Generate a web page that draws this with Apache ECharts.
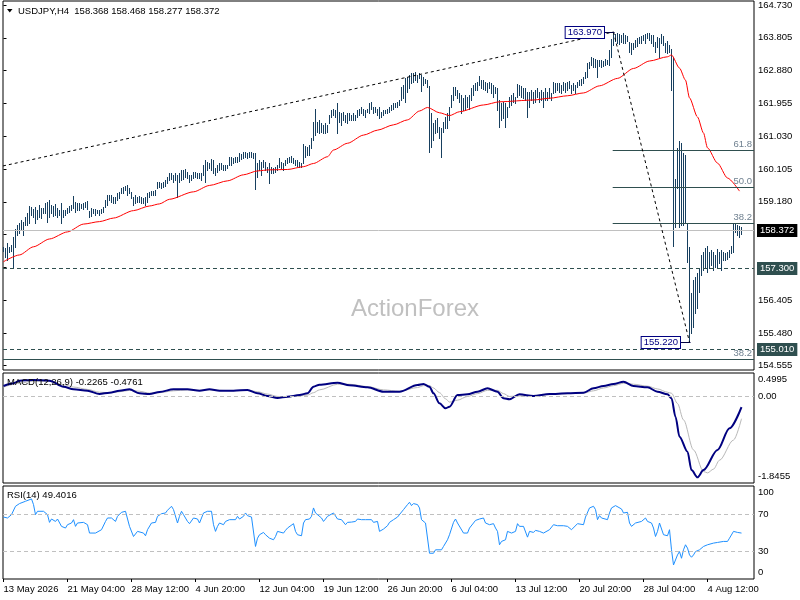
<!DOCTYPE html>
<html><head><meta charset="utf-8">
<script src="https://cdn.jsdelivr.net/npm/echarts@6/dist/echarts.min.js"></script>
<style>html,body{margin:0;padding:0;background:#fff}#c{width:800px;height:600px}</style>
</head><body><div id="c"></div>
<script>
// ---- price bars (H4), index 0 = first bar on chart ----
const highs = [
157.91,157.87,158.02,157.91,157.96,158.19,158.41,158.52,158.59,158.66,
158.62,158.76,158.87,159.06,159.04,158.97,159.04,158.95,159.09,159.00,
159.00,159.14,159.18,159.23,159.09,159.06,159.12,159.00,158.95,159.14,
158.95,158.95,159.00,159.06,159.09,159.34,159.18,159.14,159.14,159.12,
159.14,159.18,159.21,158.93,159.00,158.97,158.97,158.95,158.95,158.97,
159.04,159.23,159.37,159.37,159.37,159.32,159.31,159.42,159.46,159.56,
159.60,159.62,159.65,159.56,159.46,159.32,159.37,159.32,159.34,159.32,
159.28,159.32,159.42,159.46,159.49,159.49,159.51,159.75,159.75,159.72,
159.75,159.79,159.89,159.98,160.00,159.94,159.98,159.94,159.98,160.08,
160.08,160.09,160.03,159.94,159.94,160.03,160.03,160.00,159.98,159.98,
160.22,160.36,160.31,160.26,160.38,160.36,160.12,160.22,160.26,160.26,
160.22,160.22,160.22,160.43,160.43,160.41,160.43,160.45,160.55,160.53,
160.59,160.59,160.55,160.59,160.59,160.56,160.55,160.26,160.36,160.31,
160.36,160.31,160.17,160.26,160.17,160.12,160.17,160.22,160.41,160.31,
160.26,160.36,160.41,160.45,160.47,160.41,160.36,160.36,160.31,160.26,
160.81,160.75,160.72,160.78,160.97,161.44,161.81,161.44,161.49,161.39,
161.35,161.39,161.35,161.63,161.77,161.81,161.77,161.96,161.72,161.67,
161.72,161.63,161.67,161.67,161.63,161.67,161.63,161.77,161.81,161.86,
161.81,161.77,161.81,161.96,162.00,161.86,161.86,161.81,161.86,161.72,
161.77,161.77,161.81,161.86,161.91,161.96,161.96,162.00,162.05,162.43,
162.47,162.66,162.71,162.76,162.82,162.80,162.85,162.76,162.80,162.76,
162.70,162.65,162.61,162.45,161.67,161.39,161.49,161.53,161.30,161.25,
161.44,161.58,161.67,161.86,162.19,162.41,162.43,162.33,162.24,162.19,
162.10,162.19,162.14,162.19,162.38,162.47,162.52,162.57,162.73,162.61,
162.61,162.57,162.52,162.57,162.52,162.47,162.43,162.38,162.05,161.96,
162.00,161.96,161.86,162.14,162.19,162.24,162.14,162.50,162.47,162.45,
162.38,162.38,162.28,162.28,162.33,162.28,162.33,162.38,162.28,162.33,
162.28,162.38,162.28,162.38,162.24,162.57,162.52,162.52,162.52,162.47,
162.57,162.52,162.57,162.59,162.47,162.52,162.47,162.57,162.61,162.63,
162.71,162.85,163.09,163.13,163.27,163.23,163.20,163.18,163.18,163.18,
163.16,163.20,163.18,163.46,163.76,163.97,163.91,163.93,163.91,163.88,
163.93,163.88,163.86,163.69,163.65,163.67,163.74,163.79,163.84,163.86,
163.88,163.91,163.95,163.93,163.88,163.88,163.69,163.84,163.79,163.91,
163.86,163.65,163.72,163.60,163.48,163.27,159.82,160.69,160.89,160.84,
160.55,160.50,158.55,157.90,156.60,156.97,157.06,157.17,157.31,157.68,
157.77,157.87,157.93,157.77,157.82,157.77,157.68,157.85,157.77,157.82,
157.77,157.73,157.77,157.82,157.93,158.55,158.55,158.52,158.50,158.468
];
const lows = [
157.80,157.63,157.54,157.77,157.80,157.30,157.91,158.24,158.29,158.38,
158.24,158.52,158.52,158.57,158.81,158.76,158.57,158.68,158.76,158.71,
158.85,158.85,158.62,158.76,158.85,158.78,158.81,158.76,158.81,158.57,
158.76,158.81,158.85,158.90,158.95,159.00,158.90,158.95,158.95,159.00,
158.97,159.04,158.97,158.74,158.78,158.85,158.81,158.85,158.81,158.85,
158.90,159.04,159.09,159.23,159.18,159.14,159.14,159.23,159.28,159.42,
159.42,159.51,159.37,159.42,159.28,159.09,159.14,159.18,159.18,159.14,
159.15,159.09,159.18,159.32,159.37,159.37,159.37,159.56,159.60,159.56,
159.59,159.62,159.70,159.79,159.81,159.75,159.79,159.32,159.75,159.79,
159.81,159.89,159.84,159.75,159.79,159.84,159.89,159.84,159.84,159.79,
159.94,159.75,160.08,160.12,160.08,159.98,159.94,160.03,160.08,160.09,
160.08,160.08,160.12,160.22,160.22,160.26,160.31,160.31,160.33,160.38,
160.41,160.45,160.41,160.45,160.45,160.41,159.53,159.89,160.08,159.94,
160.17,160.08,160.03,159.70,159.98,159.98,160.03,160.08,160.17,160.12,
160.08,160.22,160.26,160.31,160.31,160.26,160.22,160.19,160.17,160.17,
160.26,160.45,160.50,160.50,160.69,160.92,161.06,161.16,161.11,161.16,
161.11,161.13,161.16,161.39,161.58,161.63,161.58,161.11,161.44,161.35,
161.49,161.44,161.39,161.49,161.49,161.50,161.49,161.58,161.63,161.67,
161.63,161.58,161.72,161.67,161.81,161.67,161.72,161.63,161.53,161.58,
161.63,161.67,161.67,161.72,161.77,161.81,161.86,161.86,161.91,162.05,
162.10,162.00,162.28,162.38,162.52,162.57,162.61,162.57,162.66,162.31,
162.47,162.52,162.43,160.59,160.73,160.92,161.11,161.16,160.97,160.45,
161.16,161.25,161.25,161.49,161.86,162.05,162.19,162.10,162.00,161.67,
161.77,161.81,161.86,161.81,162.05,162.19,162.33,162.33,162.47,162.38,
162.35,162.33,162.28,162.38,162.24,162.14,162.24,161.77,161.30,161.49,
161.53,161.30,161.58,161.86,161.91,162.00,161.96,162.14,162.19,162.14,
162.10,162.05,161.58,161.86,162.05,161.96,162.00,162.14,162.00,162.05,
161.86,162.05,162.05,162.10,162.05,162.24,162.28,162.33,162.28,162.24,
162.33,162.28,162.33,162.38,162.24,162.33,162.24,162.43,162.47,162.47,
162.52,162.66,162.71,162.94,163.04,162.99,162.99,162.71,163.01,162.99,
163.01,163.04,163.07,163.04,163.27,163.60,163.72,163.67,163.63,163.69,
163.65,163.67,163.72,163.41,163.35,163.48,163.55,163.57,163.65,163.67,
163.74,163.65,163.79,163.74,163.67,163.57,163.41,163.55,163.27,163.65,
163.60,163.41,163.37,163.41,162.33,157.93,158.48,159.56,158.48,158.52,
158.52,158.58,157.48,155.22,155.48,155.65,156.04,156.18,156.64,157.11,
157.25,157.31,157.21,157.31,157.40,157.25,157.35,157.31,157.45,157.25,
157.54,157.54,157.56,157.63,157.73,157.77,158.33,158.24,158.19,158.277
];
// moving average [barIndex, value]
const maLine = [[0,157.49],[8,157.68],[15,157.91],[23,158.13],[32,158.33],[40,158.55],[48,158.62],[55,158.72],[65,158.93],[73,159.06],[78,159.12],[83,159.25],[95,159.46],[103,159.64],[112,159.77],[120,159.94],[127,160.05],[133,160.08],[142,160.09],[150,160.17],[155,160.26],[162,160.45],[165,160.64],[172,160.83],[180,161.06],[187,161.20],[195,161.35],[202,161.49],[208,161.74],[212,161.84],[218,161.69],[223,161.61],[228,161.72],[240,161.91],[248,162.00],[265,162.05],[273,162.10],[282,162.17],[290,162.25],[298,162.45],[307,162.66],[315,162.94],[323,163.15],[332,163.27],[334,163.32],[338,162.95],[341,162.61],[343,162.11],[347,161.57],[350,161.12],[352,160.70],[357,160.27],[362,159.85],[368,159.48]];
// MACD main and signal [barIndex, value]
const macdLine = [[0,0.222],[5,0.280],[8,0.335],[15,0.350],[23,0.335],[30,0.207],[35,0.152],[42,0.122],[48,0.052],[53,0.080],[58,0.122],[63,0.152],[68,0.067],[73,0.052],[78,0.094],[85,0.152],[92,0.152],[98,0.122],[103,0.152],[108,0.122],[115,0.122],[122,0.137],[127,0.067],[132,0.009],[137,-0.034],[142,-0.006],[148,0.030],[152,0.067],[155,0.207],[158,0.250],[167,0.293],[173,0.237],[182,0.195],[190,0.101],[198,0.101],[207,0.244],[210,0.265],[213,0.207],[215,0.067],[218,-0.147],[221,-0.253],[223,-0.219],[227,0.030],[232,0.045],[237,0.101],[242,0.173],[247,0.101],[250,-0.040],[253,-0.061],[258,0.045],[265,0.009],[273,0.052],[282,0.067],[290,0.080],[295,0.173],[300,0.222],[305,0.265],[310,0.314],[315,0.222],[322,0.195],[327,0.101],[332,0.045],[334,-0.040],[336,-0.432],[338,-0.859],[342,-1.178],[344,-1.569],[347,-1.725],[350,-1.569],[357,-1.142],[363,-0.680],[369,-0.2265]];
const signalLine = [[0,0.20],[8,0.28],[15,0.33],[23,0.32],[30,0.25],[35,0.20],[42,0.15],[48,0.09],[53,0.08],[58,0.10],[63,0.13],[68,0.11],[73,0.07],[78,0.08],[85,0.12],[92,0.14],[98,0.13],[103,0.14],[108,0.13],[115,0.12],[122,0.13],[127,0.10],[132,0.05],[137,0.00],[142,-0.01],[148,0.01],[152,0.03],[155,0.08],[158,0.14],[167,0.26],[173,0.26],[182,0.21],[190,0.14],[198,0.11],[207,0.19],[210,0.23],[213,0.23],[215,0.18],[218,0.08],[221,-0.05],[223,-0.12],[227,-0.08],[232,0.00],[237,0.06],[242,0.13],[247,0.13],[250,0.06],[253,0.00],[258,0.01],[265,0.02],[273,0.04],[282,0.06],[290,0.07],[295,0.12],[300,0.18],[305,0.23],[310,0.28],[315,0.26],[322,0.22],[327,0.16],[332,0.09],[334,0.067],[337,-0.15],[340,-0.50],[345,-1.14],[350,-1.60],[352,-1.63],[355,-1.55],[358,-1.36],[365,-0.93],[369,-0.4761]];
// RSI(14) [barIndex, value]
const rsiLine = [[0,66.6],[2,65.6],[4,69.2],[6,78.2],[8,81.1],[11,83.6],[12,84.7],[14,86.1],[15,80.0],[16,69.2],[17,72.8],[18,71.0],[20,72.8],[21,73.9],[22,69.2],[23,60.9],[24,64.5],[26,61.9],[27,64.5],[29,56.6],[30,58.4],[31,54.8],[32,58.4],[34,60.2],[35,63.8],[36,56.6],[37,60.2],[38,58.4],[40,60.9],[41,60.9],[42,58.4],[43,49.4],[44,47.6],[46,49.4],[47,49.4],[49,53.0],[51,61.9],[52,65.6],[54,65.6],[56,61.9],[57,67.4],[59,71.7],[61,72.8],[62,73.5],[63,56.6],[65,45.7],[67,51.2],[68,53.0],[70,49.4],[71,46.5],[72,53.0],[74,60.2],[76,60.9],[77,67.4],[79,70.2],[81,71.0],[82,73.9],[84,78.2],[85,74.6],[87,60.2],[88,67.4],[89,72.8],[90,69.2],[92,61.9],[93,59.5],[94,60.2],[95,65.6],[97,64.5],[98,60.2],[99,60.9],[100,71.0],[102,72.8],[103,71.0],[104,72.8],[105,58.4],[106,51.2],[107,56.6],[108,60.2],[110,58.4],[111,61.9],[112,60.2],[113,63.8],[114,65.6],[116,63.8],[117,67.4],[118,64.5],[120,67.4],[121,71.0],[122,68.1],[123,67.4],[124,66.6],[125,65.6],[126,35.0],[127,43.9],[128,47.6],[130,50.1],[131,47.6],[132,48.6],[133,43.9],[135,42.2],[136,45.7],[137,51.2],[138,53.0],[140,49.4],[141,52.3],[142,54.8],[143,56.6],[145,59.5],[146,51.2],[147,47.6],[149,46.5],[150,60.2],[151,63.8],[152,61.9],[153,64.5],[154,67.4],[155,76.4],[156,71.0],[157,69.2],[159,65.6],[160,61.9],[161,64.5],[162,67.4],[163,69.2],[165,71.0],[166,69.2],[167,64.5],[169,63.8],[170,64.5],[171,58.4],[172,60.9],[174,61.2],[176,61.9],[177,64.5],[179,63.8],[180,65.6],[181,63.8],[182,61.9],[184,63.8],[185,60.9],[186,60.2],[187,61.9],[188,51.2],[190,53.7],[192,57.3],[193,60.9],[195,63.8],[197,66.6],[198,67.4],[200,74.6],[202,80.0],[203,82.5],[204,78.9],[205,81.1],[207,80.0],[208,76.4],[209,63.8],[210,65.6],[211,60.2],[213,27.7],[214,27.0],[215,27.7],[216,31.4],[217,33.2],[219,31.4],[220,35.0],[222,42.2],[223,47.6],[225,60.9],[226,64.5],[227,60.2],[228,58.4],[230,49.4],[231,51.2],[232,49.4],[233,54.8],[235,60.2],[236,63.0],[238,64.5],[240,65.6],[241,60.2],[243,58.4],[245,59.5],[246,54.8],[247,51.2],[248,36.8],[249,40.4],[250,38.6],[251,42.2],[252,51.2],[254,49.4],[256,51.2],[257,59.5],[258,56.6],[260,56.6],[261,54.8],[262,45.0],[263,51.2],[265,50.1],[266,52.3],[267,53.0],[268,51.2],[270,49.4],[271,49.4],[273,53.0],[275,58.4],[277,57.3],[278,57.3],[280,57.3],[282,56.6],[284,53.0],[285,54.8],[287,59.5],[288,60.9],[290,58.4],[291,66.6],[292,64.5],[293,76.4],[295,78.2],[296,74.6],[297,63.8],[298,68.1],[299,65.6],[300,67.4],[302,63.8],[303,71.0],[304,76.4],[306,78.9],[307,78.2],[309,75.3],[310,71.0],[312,71.7],[313,60.2],[314,56.6],[316,60.2],[317,60.9],[319,61.9],[321,65.6],[322,61.9],[324,60.2],[325,54.8],[326,45.7],[327,51.2],[328,60.2],[330,47.6],[331,46.5],[332,46.5],[333,53.0],[334,31.4],[335,15.1],[336,15.1],[337,25.9],[338,29.5],[339,22.3],[340,31.4],[341,36.8],[342,33.2],[343,25.9],[344,23.4],[345,25.9],[346,29.5],[347,29.5],[348,31.4],[350,35.0],[352,36.8],[353,37.8],[355,38.6],[357,39.3],[358,40.4],[360,40.4],[362,40.4],[363,43.9],[365,51.2],[366,52.3],[367,50.1],[369,49.4]];

// axis ticks and labels
const priceTicks = [164.730,163.805,162.880,161.955,161.030,160.105,159.180,158.255,157.330,156.405,155.480,154.555];
const macdTicks = [0.4995, 0, -1.8455];
const rsiTicks = [100, 70, 30, 0];
const timeTickIdx = [0,32,64,96,128,160,192,224,256,288,320,352];
const timeLabels = ['13 May 2026','21 May 04:00','28 May 12:00','4 Jun 20:00','12 Jun 04:00','19 Jun 12:00','26 Jun 20:00','6 Jul 04:00','13 Jul 12:00','20 Jul 20:00','28 Jul 04:00','4 Aug 12:00'];

// drawn objects
const swingTags = [[305,163.970],[343,155.220]];
const trendLines = [[[-0.25,160.19],[305,163.97]],[[305,163.97],[343,155.22]]];
const fibLevels = [['38.2',158.563],['50.0',159.595],['61.8',160.628]];
const fibStartIdx = 304.6;
const longFibLevel = ['38.2',154.74];
const levelLines = [157.300,155.010];
const lastPrice = 158.372;
const quoteText = 'USDJPY,H4  158.368 158.468 158.277 158.372';
const macdText = 'MACD(12,26,9) -0.2265 -0.4761';
const rsiText = 'RSI(14) 49.4016';

const F = '"Liberation Sans", Arial, sans-serif';
const FS = 9.5;
const X_MIN = -0.25, X_MAX = 375.25;
const bars = highs.map((h, i) => [i, h, lows[i]]);

const chart = echarts.init(document.getElementById('c'), null, {renderer: 'canvas'});

function edgeFmt(v, top, bot, txt) {
  if (v === top) return '{t|' + txt + '}';
  if (v === bot) return '{b|' + txt + '}';
  return txt;
}
const edgeRich = {
  t: {padding: [13, 0, 0, 0], fontSize: FS, fontFamily: F, color: '#000'},
  b: {padding: [0, 0, 13, 0], fontSize: FS, fontFamily: F, color: '#000'}
};

const levelLabel = (txt, bg) => ({show: true, position: 'end', formatter: txt, color: '#fff', backgroundColor: bg,
  padding: [2, 3, 1, 3], distance: 3, fontSize: FS, fontFamily: F});
const fibLabel = (txt) => ({show: true, position: 'insideEndTop', formatter: txt, color: '#6f8090',
  distance: [2, 1], fontSize: FS, fontFamily: F});

const markData = [
  {yAxis: lastPrice, lineStyle: {color: '#c0c0c0', type: 'solid', width: 1}, label: levelLabel(lastPrice.toFixed(3), '#000')}
].concat(levelLines.map(v => ({yAxis: v, lineStyle: {color: '#2f4f4f', type: [4, 3], width: 1}, label: levelLabel(v.toFixed(3), '#2f4f4f')})))
 .concat([{yAxis: longFibLevel[1], lineStyle: {color: '#2f4f4f', type: 'solid', width: 1}, label: fibLabel(longFibLevel[0])}])
 .concat(fibLevels.map(([t, v]) => [{coord: [fibStartIdx, v], lineStyle: {color: '#2f4f4f', type: 'solid', width: 1}, label: fibLabel(t)}, {coord: [X_MAX, v]}]))
 .concat(trendLines.map(([a, b]) => [{coord: a, lineStyle: {color: '#000', type: [3, 3], width: 1}, label: {show: false}}, {coord: b}]));

const hiddenX = (gi) => ({type: 'value', gridIndex: gi, min: X_MIN, max: X_MAX, show: false});

const option = {
  animation: false,
  backgroundColor: '#fff',
  grid: [
    {left: 3, top: 1, width: 751, height: 369, show: true, borderColor: '#000', borderWidth: 1, backgroundColor: 'transparent'},
    {left: 3, top: 373, width: 751, height: 110, show: true, borderColor: '#000', borderWidth: 1, backgroundColor: 'transparent'},
    {left: 3, top: 486, width: 751, height: 93, show: true, borderColor: '#000', borderWidth: 1, backgroundColor: 'transparent'}
  ],
  xAxis: [
    hiddenX(0), hiddenX(1),
    {type: 'value', gridIndex: 2, min: X_MIN, max: X_MAX, position: 'bottom',
     axisLine: {show: false}, splitLine: {show: false},
     axisTick: {show: true, customValues: timeTickIdx, length: 3, lineStyle: {color: '#000'}},
     axisLabel: {show: true, customValues: timeTickIdx, align: 'left', margin: 5, color: '#000', fontSize: FS, fontFamily: F,
       formatter: v => timeLabels[timeTickIdx.indexOf(v)] || ''}}
  ],
  yAxis: [
    {type: 'value', gridIndex: 0, min: 154.434, max: 164.843, position: 'right', scale: true,
     axisLine: {show: false}, splitLine: {show: false},
     axisTick: {show: true, customValues: priceTicks, length: 3, lineStyle: {color: '#000'}},
     axisLabel: {show: true, customValues: priceTicks, margin: 4, color: '#000', fontSize: FS, fontFamily: F, formatter: v => v.toFixed(3)}},
    {type: 'value', gridIndex: 1, min: -1.8455, max: 0.4995, position: 'right',
     axisLine: {show: false}, splitLine: {show: false}, axisTick: {show: false},
     axisLabel: {show: true, customValues: macdTicks, margin: 4, color: '#000', fontSize: FS, fontFamily: F, rich: edgeRich,
       formatter: v => edgeFmt(v, 0.4995, -1.8455, v === 0 ? '0.00' : v.toFixed(4))}},
    {type: 'value', gridIndex: 2, min: 0, max: 100, position: 'right',
     axisLine: {show: false}, splitLine: {show: false}, axisTick: {show: false},
     axisLabel: {show: true, customValues: rsiTicks, margin: 4, color: '#000', fontSize: FS, fontFamily: F, rich: edgeRich,
       formatter: v => edgeFmt(v, 100, 0, String(v))}}
  ],
  graphic: [
    {type: 'text', z: 0, style: {text: 'ActionForex', x: 415, y: 309, align: 'center', verticalAlign: 'middle', font: '24px ' + F, fill: '#c0c0c0'}},
    {type: 'polygon', z: 10, shape: {points: [[7, 9], [12.5, 9], [9.75, 12.5]]}, style: {fill: '#000'}},
    {type: 'text', z: 10, style: {text: quoteText, x: 18, y: 11, verticalAlign: 'middle', font: FS + 'px ' + F, fill: '#000'}},
    {type: 'text', z: 10, style: {text: macdText, x: 7, y: 382, verticalAlign: 'middle', font: FS + 'px ' + F, fill: '#000'}},
    {type: 'text', z: 10, style: {text: rsiText, x: 7, y: 495, verticalAlign: 'middle', font: FS + 'px ' + F, fill: '#000'}}
  ],
  series: [
    {type: 'custom', name: 'bars', xAxisIndex: 0, yAxisIndex: 0, data: bars, encode: {x: 0, y: [1, 2]}, clip: true,
     renderItem: (params, api) => {
       const a = api.coord([api.value(0), api.value(1)]);
       const b = api.coord([api.value(0), api.value(2)]);
       const x = Math.round(a[0] - 0.5) + 0.5;
       return {type: 'line', shape: {x1: x, y1: Math.round(a[1]), x2: x, y2: Math.round(b[1]) + 1}, style: {stroke: '#173f5f', lineWidth: 1}};
     }},
    {type: 'line', name: 'MA', xAxisIndex: 0, yAxisIndex: 0, data: maLine, showSymbol: false, smooth: 0.25, smoothMonotone: 'x', clip: false,
     lineStyle: {color: '#ff0000', width: 1},
     markLine: {symbol: ['none', 'none'], silent: true, animation: false, data: markData}},
    {type: 'custom', name: 'tags', xAxisIndex: 0, yAxisIndex: 0, data: swingTags, clip: false, z: 5,
     renderItem: (params, api) => {
       const p = api.coord([api.value(0), api.value(1)]);
       const y = Math.round(p[1]) + 0.5;
       const bx = Math.round(p[0]) - 10;
       return {type: 'group', children: [
         {type: 'line', shape: {x1: bx, y1: y, x2: p[0] + 1, y2: y}, style: {stroke: '#000040', lineWidth: 1}},
         {type: 'text', style: {text: api.value(1).toFixed(3), x: bx, y: y, align: 'right', verticalAlign: 'middle',
           fill: '#000080', backgroundColor: '#fff', borderColor: '#000080', borderWidth: 1, padding: [1, 2, 0, 2], font: FS + 'px ' + F}}
       ]};
     }},
    {type: 'line', name: 'MACD', xAxisIndex: 1, yAxisIndex: 1, data: macdLine, showSymbol: false, smooth: 0.3, smoothMonotone: 'x',
     lineStyle: {color: '#000080', width: 2}, z: 3,
     markLine: {symbol: ['none', 'none'], silent: true, label: {show: false}, lineStyle: {color: '#c0c0c0', type: [4, 3], width: 1}, data: [{yAxis: 0}]}},
    {type: 'line', name: 'Signal', xAxisIndex: 1, yAxisIndex: 1, data: signalLine, showSymbol: false, smooth: 0.3, smoothMonotone: 'x',
     lineStyle: {color: '#b8b8b8', width: 1}, z: 2},
    {type: 'line', name: 'RSI', xAxisIndex: 2, yAxisIndex: 2, data: rsiLine, showSymbol: false,
     lineStyle: {color: '#1e90ff', width: 1},
     markLine: {symbol: ['none', 'none'], silent: true, label: {show: false}, lineStyle: {color: '#c0c0c0', type: [4, 3], width: 1}, data: [{yAxis: 70}, {yAxis: 30}]}}
  ]
};
chart.setOption(option);
</script>
</body></html>
